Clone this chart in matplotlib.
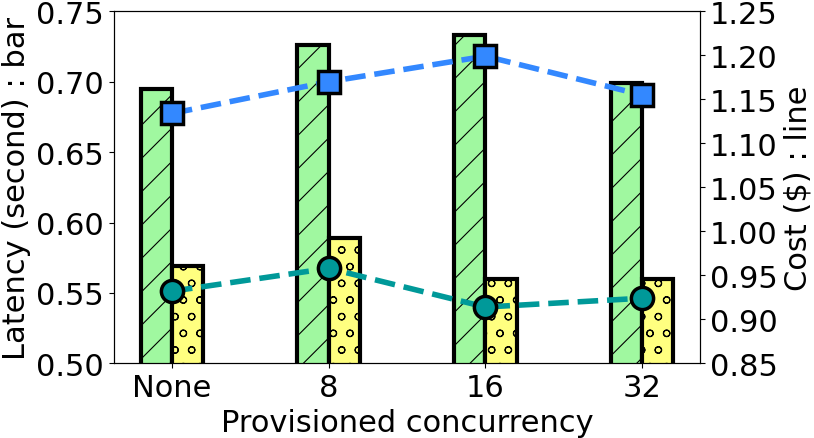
import numpy as np
import matplotlib.pyplot as plt

categories = ["None", "8", "16", "32"]
latency_a = [0.695, 0.726, 0.733, 0.699]
latency_b = [0.569, 0.589, 0.560, 0.560]
cost_a = [1.134, 1.170, 1.199, 1.155]
cost_b = [0.932, 0.958, 0.914, 0.924]

plt.rcParams["hatch.linewidth"] = 0.8

fig, ax = plt.subplots(figsize=(8.14, 4.39), dpi=100)
x = np.arange(len(categories))
w = 0.2

ax.bar(x - w / 2, latency_a, width=w, color="#a0f8a0", edgecolor="black",
       linewidth=3, hatch="/")
ax.bar(x + w / 2, latency_b, width=w, color="#ffff80", edgecolor="black",
       linewidth=3, hatch="o")
ax.set_ylim(0.50, 0.75)
ax.set_xticks(x)
ax.set_xticklabels(categories)
ax.tick_params(labelsize=22)
ax.set_xlabel("Provisioned concurrency", fontsize=22)
ax.set_ylabel("Latency (second) : bar", fontsize=22)

ax2 = ax.twinx()
ax2.plot(x, cost_a, ls="--", color="#3388ff", lw=4, marker="s", markersize=16,
         markerfacecolor="#3388ff", markeredgecolor="black", markeredgewidth=2.5)
ax2.plot(x, cost_b, ls="--", color="#009999", lw=4, marker="o", markersize=16,
         markerfacecolor="#009999", markeredgecolor="black", markeredgewidth=2.5)
ax2.set_ylim(0.85, 1.25)
ax2.set_yticks(np.arange(0.85, 1.251, 0.05))
ax2.tick_params(labelsize=22)
ax2.set_ylabel("Cost ($) : line", fontsize=22)

fig.subplots_adjust(left=0.14, right=0.86, top=0.972, bottom=0.17)
fig.savefig("out.png")
